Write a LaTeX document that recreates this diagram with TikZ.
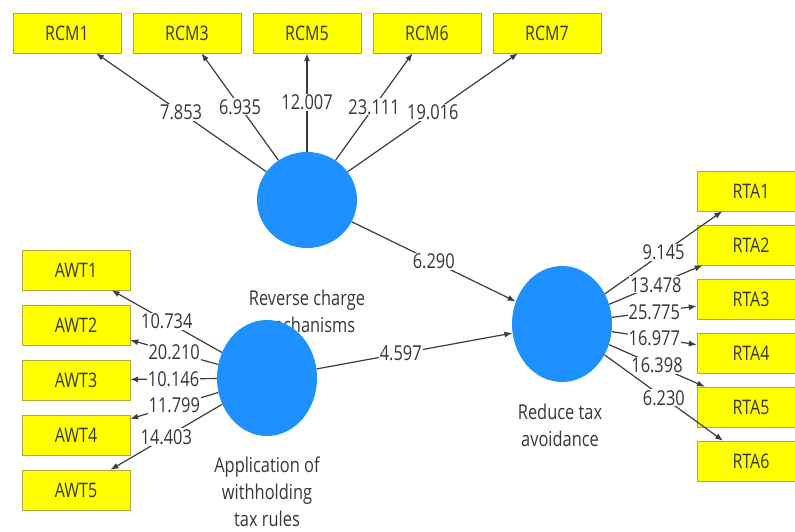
\documentclass[tikz,border=0pt]{standalone}
\usepackage{fontspec}
\setmainfont[FakeStretch=0.8]{Open Sans}
\usepackage{tikz}
\usetikzlibrary{shapes.geometric,arrows.meta,positioning}
\definecolor{indyellow}{RGB}{255,255,0}
\definecolor{latblue}{RGB}{30,144,255}
\definecolor{txtgray}{RGB}{55,55,55}
\definecolor{linegray}{RGB}{60,60,60}
\tikzset{
  ind/.style={rectangle, draw=black!35!yellow, fill=indyellow, minimum width=108pt, minimum height=40pt, inner sep=0pt, text=txtgray, font=\fontsize{20}{22}\selectfont},
  lat/.style={ellipse, fill=latblue, minimum width=100pt, inner sep=0pt},
  latname/.style={align=center, text=txtgray, font=\fontsize{20.5}{27}\selectfont},
  coef/.style={fill=white, inner sep=1pt, text=txtgray, font=\fontsize{20.5}{22}\selectfont},
  load/.style={->, draw=linegray, line width=1.2pt}
}

\begin{document}
\begin{tikzpicture}[x=1pt, y=-1pt, >={Latex[length=8pt,width=6pt]}]
\useasboundingbox (0,0) rectangle (795,532);

\foreach \i/\xx in {1/67,3/187,5/307,6/427,7/547}
  \node (rcm\i) [ind] at (\xx,33) {RCM\i};
\foreach \i in {1,...,5}
  \node (awt\i) [ind] at (76,{215+55*\i}) {AWT\i};
\foreach \i in {1,...,6}
  \node (rta\i) [ind] at (751,{137+54*\i}) {RTA\i};

\node (rcmname) [latname] at (307,311) {Reverse charge\\mechanisms};
\node (awtname) [latname] at (267,492) {Application of\\withholding\\tax rules};
\node (rtaname) [latname] at (560,425) {Reduce tax\\avoidance};

\node (rcm) [lat, minimum height=96pt] at (307,200) {};
\node (awt) [lat, minimum height=116pt] at (267,378) {};
\node (rta) [lat, minimum height=116pt] at (562,324) {};

\foreach \i/\v in {1/7.853,3/6.935,5/12.007,6/23.111,7/19.016}
  \draw [load] (rcm) -- (rcm\i) node[coef, midway] {\v};
\foreach \i/\v in {1/10.734,2/20.210,3/10.146,4/11.799,5/14.403}
  \draw [load] (awt) -- (awt\i) node[coef, midway] {\v};
\foreach \i/\v in {1/9.145,2/13.478,3/25.775,4/16.977,5/16.398,6/6.230}
  \draw [load] (rta) -- (rta\i) node[coef, midway] {\v};

\draw [load] (rcm) -- (rta) node[coef, midway] {6.290};
\draw [load] (awt) -- (rta) node[coef, pos=0.43] {4.597};
\end{tikzpicture}
\end{document}
